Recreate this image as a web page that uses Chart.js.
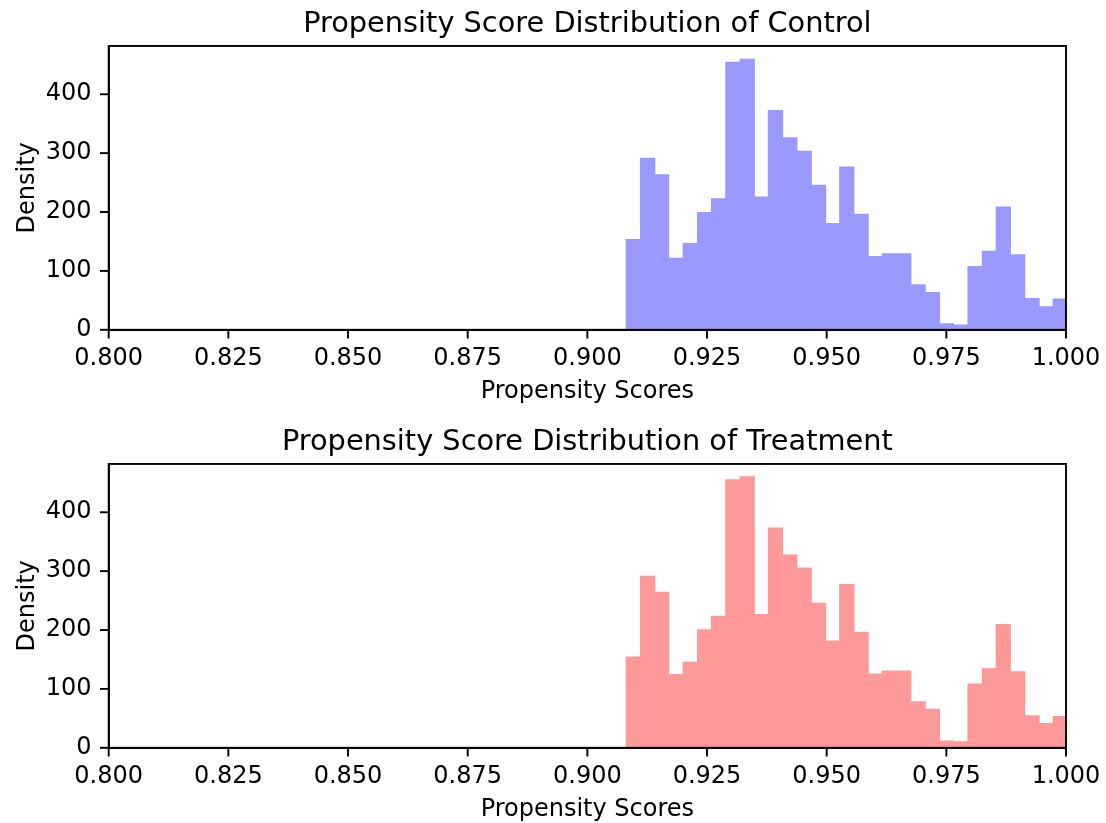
<!DOCTYPE html>
<html>
<head>
<meta charset="utf-8">
<script src="https://cdn.jsdelivr.net/npm/chart.js@4.4.1/dist/chart.umd.min.js"></script>
<style>
  body { margin: 0; background: #fff; }
  .panel { position: absolute; left: 0; width: 1106px; height: 410px; }
  #control-panel { top: 0; }
  #treatment-panel { top: 418px; }
</style>
</head>
<body>
<div class="panel" id="control-panel"><canvas id="control-chart" width="1106" height="410"></canvas></div>
<div class="panel" id="treatment-panel"><canvas id="treatment-chart" width="1106" height="410"></canvas></div>
<script>
// bin centres of the histogram (bin width ~0.00297)
const binCenters = [
  0.9096, 0.9126, 0.9155, 0.9185, 0.9215, 0.9245, 0.9274, 0.9304, 0.9334, 0.9364,
  0.9393, 0.9423, 0.9453, 0.9483, 0.9512, 0.9542, 0.9572, 0.9602, 0.9631, 0.9661,
  0.9691, 0.9721, 0.9750, 0.9780, 0.9810, 0.9840, 0.9869, 0.9899, 0.9929, 0.9959,
  0.9988
];
const controlDensity = [
  153, 291, 263, 121, 146, 199, 222, 454, 459, 225,
  372, 326, 303, 245, 180, 276, 196, 124, 129, 129,
  76, 63, 10, 8, 107, 133, 208, 127, 53, 39,
  52
];
const treatmentDensity = [
  154, 291, 264, 124, 145, 200, 223, 455, 460, 226,
  373, 327, 305, 245, 181, 277, 196, 125, 130, 130,
  78, 65, 11, 10, 108, 134, 209, 129, 54, 41,
  53
];
const xTickValues = [0.800, 0.825, 0.850, 0.875, 0.900, 0.925, 0.950, 0.975, 1.000];
const yTickValues = [0, 100, 200, 300, 400];

const FONT = 'DejaVu Sans';
const TICK_LEN = 8.7;

// matplotlib draws a closed box round the axes plus outward tick marks;
// chart.js grid ticks kept for spacing only, the marks are stroked here.
const axesFrame = {
  id: 'axesFrame',
  afterDraw(chart) {
    const { ctx, chartArea: a, scales } = chart;
    ctx.save();
    ctx.strokeStyle = '#000';
    ctx.lineWidth = 1.9;
    ctx.strokeRect(a.left, a.top, a.right - a.left, a.bottom - a.top);
    xTickValues.forEach(v => {
      const px = scales.x.getPixelForValue(v);
      ctx.beginPath();
      ctx.moveTo(px, a.bottom);
      ctx.lineTo(px, a.bottom + TICK_LEN);
      ctx.stroke();
    });
    yTickValues.forEach(v => {
      const py = scales.y.getPixelForValue(v);
      ctx.beginPath();
      ctx.moveTo(a.left, py);
      ctx.lineTo(a.left - TICK_LEN, py);
      ctx.stroke();
    });
    ctx.restore();
  }
};

function renderHist(canvasId, title, values, color) {
  const ctx = document.getElementById(canvasId).getContext('2d');
  return new Chart(ctx, {
    type: 'bar',
    data: {
      datasets: [{
        data: binCenters.map((x, i) => ({ x, y: values[i] })),
        backgroundColor: color,
        borderWidth: 0,
        // small overlap hides the antialias seams between adjacent bins
        inflateAmount: 0.7,
        barPercentage: 1,
        categoryPercentage: 1
      }]
    },
    plugins: [axesFrame],
    options: {
      responsive: false,
      animation: false,
      layout: { padding: { top: 0, left: 0, right: 40, bottom: 4.2 } },
      plugins: {
        legend: { display: false },
        tooltip: { enabled: false },
        title: {
          display: true,
          text: title,
          fullSize: false,
          color: '#000',
          font: { family: FONT, size: 28.8, weight: 'normal' },
          padding: { top: 6.8, bottom: 4.6 }
        }
      },
      scales: {
        x: {
          type: 'linear',
          min: 0.8,
          max: 1.0,
          offset: false,
          afterBuildTicks: (scale) => { scale.ticks = xTickValues.map(v => ({ value: v })); },
          grid: { offset: false, drawOnChartArea: false, drawTicks: true, tickLength: TICK_LEN, tickColor: 'rgba(0,0,0,0)' },
          border: { display: true, color: '#000', width: 1.9 },
          ticks: {
            color: '#000', font: { family: FONT, size: 24 }, padding: 5.5,
            maxRotation: 0, autoSkip: false,
            callback: v => v.toFixed(3)
          },
          title: {
            display: true, text: 'Propensity Scores', color: '#000',
            font: { family: FONT, size: 24 }, padding: { top: -1.3, bottom: 0 }
          }
        },
        y: {
          min: 0,
          max: 482,
          afterBuildTicks: (scale) => { scale.ticks = yTickValues.map(v => ({ value: v })); },
          afterFit: (scale) => { scale.width = 108.7; },
          grid: { drawOnChartArea: false, drawTicks: true, tickLength: TICK_LEN, tickColor: 'rgba(0,0,0,0)' },
          border: { display: true, color: '#000', width: 1.9 },
          ticks: {
            color: '#000', font: { family: FONT, size: 24 }, padding: 8.5,
            callback: v => String(v)
          },
          title: {
            display: true, text: 'Density', color: '#000',
            font: { family: FONT, size: 24 }, padding: { top: 13.5, bottom: 0 }
          }
        }
      }
    }
  });
}

window.controlChart = renderHist('control-chart', 'Propensity Score Distribution of Control', controlDensity, '#9999ff');
window.treatmentChart = renderHist('treatment-chart', 'Propensity Score Distribution of Treatment', treatmentDensity, '#ff9999');
</script>
</body>
</html>
